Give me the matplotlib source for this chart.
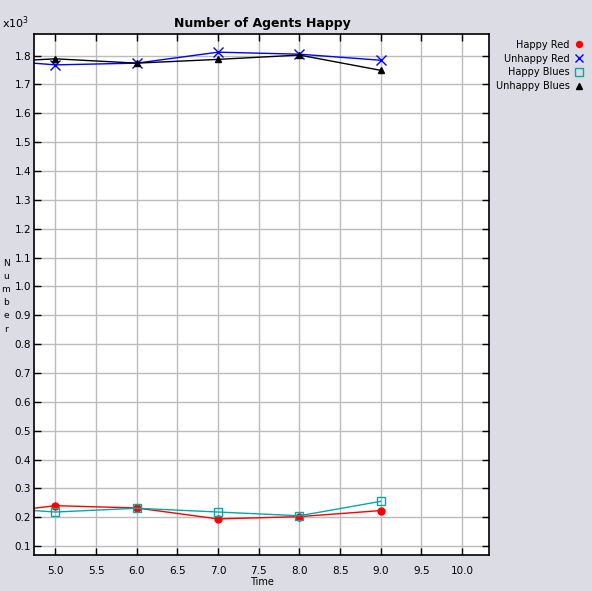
import matplotlib
matplotlib.use("Agg")
import matplotlib.pyplot as plt
from matplotlib.ticker import MultipleLocator, FormatStrFormatter

# Data (counts); the x=4 step lies just left of the visible window
time = [4, 5, 6, 7, 8, 9]
happy_red = [206, 240, 232, 194, 202, 223]
unhappy_red = [1790, 1768, 1774, 1812, 1805, 1784]
happy_blues = [237, 218, 231, 218, 205, 255]
unhappy_blues = [1774, 1789, 1774, 1787, 1802, 1749]

series_names = ["Happy Red", "Unhappy Red", "Happy Blues", "Unhappy Blues"]

bg = "#dcdce4"
fig = plt.figure(figsize=(5.92, 5.91), dpi=100, facecolor=bg)
ax = fig.add_axes([34/592, 36/591, (489-34)/592, (555-34)/591])
ax.set_facecolor("white")

scale = 1000.0
styles = [
    (happy_red, dict(color="#ff0000", marker="o", markersize=5, markerfacecolor="#ff0000", markeredgecolor="#ff0000")),
    (unhappy_red, dict(color="#0000ff", marker="x", markersize=6.5, markeredgewidth=1.0)),
    (happy_blues, dict(color="#00aaaa", marker="s", markersize=6, markerfacecolor="none", markeredgecolor="#00aaaa", markeredgewidth=1.0)),
    (unhappy_blues, dict(color="#000000", marker="^", markersize=5, markerfacecolor="black", markeredgecolor="black")),
]
handles = []
for (vals, st), name in zip(styles, series_names):
    h, = ax.plot(time, [v / scale for v in vals], linewidth=1.0, label=name, **st)
    handles.append(h)

ax.set_xlim(4.738, 10.33)
ax.set_ylim(0.069, 1.875)
ax.xaxis.set_major_locator(MultipleLocator(0.5))
ax.yaxis.set_major_locator(MultipleLocator(0.1))
ax.xaxis.set_major_formatter(FormatStrFormatter("%.1f"))
ax.yaxis.set_major_formatter(FormatStrFormatter("%.1f"))
ax.grid(True, color="#bcbcbc", linewidth=1.0)
ax.set_axisbelow(True)
ax.tick_params(direction="in", length=5, width=1, labelsize=7.5,
               top=True, right=True, labeltop=False, labelright=False)
ax.tick_params(axis="y", pad=2)
ax.tick_params(axis="x", pad=8)
for s in ax.spines.values():
    s.set_color("black")
    s.set_linewidth(1.2)

fig.text(262/592, 1 - 24/591, "Number of Agents Happy", ha="center", va="center",
         fontsize=9, fontweight="bold")
fig.text(262/592, 1 - 582/591, "Time", ha="center", va="center", fontsize=7)
fig.text(6/592, 1 - 296/591, "N\nu\nm\nb\ne\nr", ha="center", va="center",
         fontsize=6.5, linespacing=1.6)
fig.text(2/592, 1 - 23/591, r"x10$^{3}$", ha="left", va="center", fontsize=8)

leg = fig.legend(handles=handles, loc="upper right", bbox_to_anchor=(583/592, 1 - 36/591),
                 markerfirst=False, frameon=False, fontsize=7, handlelength=0,
                 handletextpad=1.0, labelspacing=0.38, borderaxespad=0, markerscale=0.85)
for lh in leg.legend_handles:
    lh.set_linestyle("none")

fig.savefig("out.png", dpi=100, facecolor=bg)
